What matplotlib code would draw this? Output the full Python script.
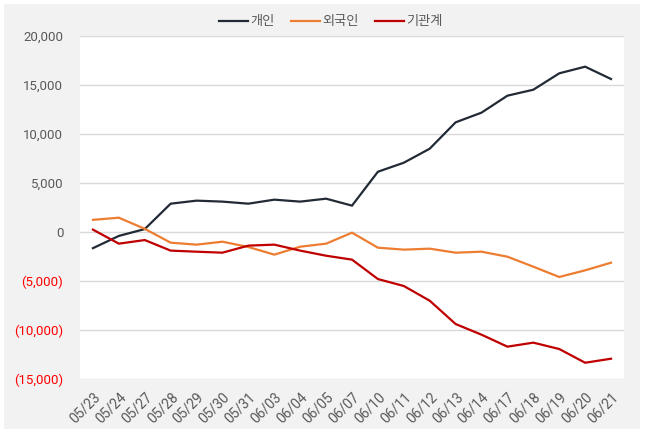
import matplotlib
matplotlib.use("Agg")
import matplotlib.pyplot as plt
from matplotlib.patches import Rectangle
from matplotlib.ticker import FuncFormatter

plt.rcParams['font.family'] = ['Roboto', 'Noto Sans CJK KR', 'DejaVu Sans']

dates = ["05/23", "05/24", "05/27", "05/28", "05/29", "05/30", "05/31",
         "06/03", "06/04", "06/05", "06/07", "06/10", "06/11", "06/12",
         "06/13", "06/14", "06/17", "06/18", "06/19", "06/20", "06/21"]

individual = [-1650, -400, 300, 2890, 3200, 3100, 2890, 3300, 3100, 3400, 2690,
              6150, 7070, 8500, 11190, 12180, 13910, 14520, 16190, 16870, 15610]
foreign = [1240, 1460, 320, -1090, -1290, -990, -1530, -2310, -1500, -1190, -70,
           -1600, -1800, -1700, -2110, -2010, -2520, -3540, -4590, -3910, -3130]
institution = [240, -1190, -820, -1900, -2010, -2110, -1390, -1290, -1900, -2420, -2820,
               -4800, -5510, -7010, -9390, -10480, -11700, -11290, -11940, -13340, -12930]

series_names = ["개인", "외국인", "기관계"]
colors = ["#222a35", "#ed7d31", "#c00000"]

W, H = 646, 437
fig = plt.figure(figsize=(W / 100, H / 100), dpi=100, facecolor="white")
fig.patches.append(Rectangle((4 / W, 8 / H), 636 / W, 425 / H,
                             transform=fig.transFigure, facecolor="#f2f2f2",
                             edgecolor="none", zorder=-10))

ax = fig.add_axes([80 / W, (H - 379) / H, 544 / W, 343 / H])
ax.set_facecolor("white")

x = list(range(len(dates)))
for vals, name, c in zip([individual, foreign, institution], series_names, colors):
    ax.plot(x, vals, color=c, lw=1.6, label=name, solid_joinstyle="miter")

ax.set_xlim(-0.5, len(dates) - 0.5)
ax.set_ylim(-15000, 20000)
ax.set_yticks(range(-15000, 20001, 5000))
ax.set_xticks(x)
ax.set_xticklabels(dates, rotation=45, ha="right", rotation_mode="anchor",
                   fontsize=10, color="#595959")


def fmt(v, pos):
    if v < 0:
        return "({:,.0f})".format(-v)
    return "{:,.0f}".format(v)


ax.yaxis.set_major_formatter(FuncFormatter(fmt))
for lbl, v in zip(ax.get_yticklabels(), ax.get_yticks()):
    lbl.set_color("#ff0000" if v < 0 else "#595959")
    lbl.set_fontsize(9.5)

ax.grid(axis="y", color="#d9d9d9", lw=1)
ax.set_axisbelow(True)
ax.tick_params(length=0, pad=12)
ax.tick_params(axis="x", pad=8)
for s in ax.spines.values():
    s.set_visible(False)

fig.legend(loc="center", bbox_to_anchor=(331 / W, 1 - 22 / H), ncol=3,
           frameon=False, fontsize=9.5, labelcolor="#595959",
           handlelength=2.2, handletextpad=0.2, columnspacing=1.2)

fig.savefig("out.png", dpi=100, facecolor=fig.get_facecolor())
